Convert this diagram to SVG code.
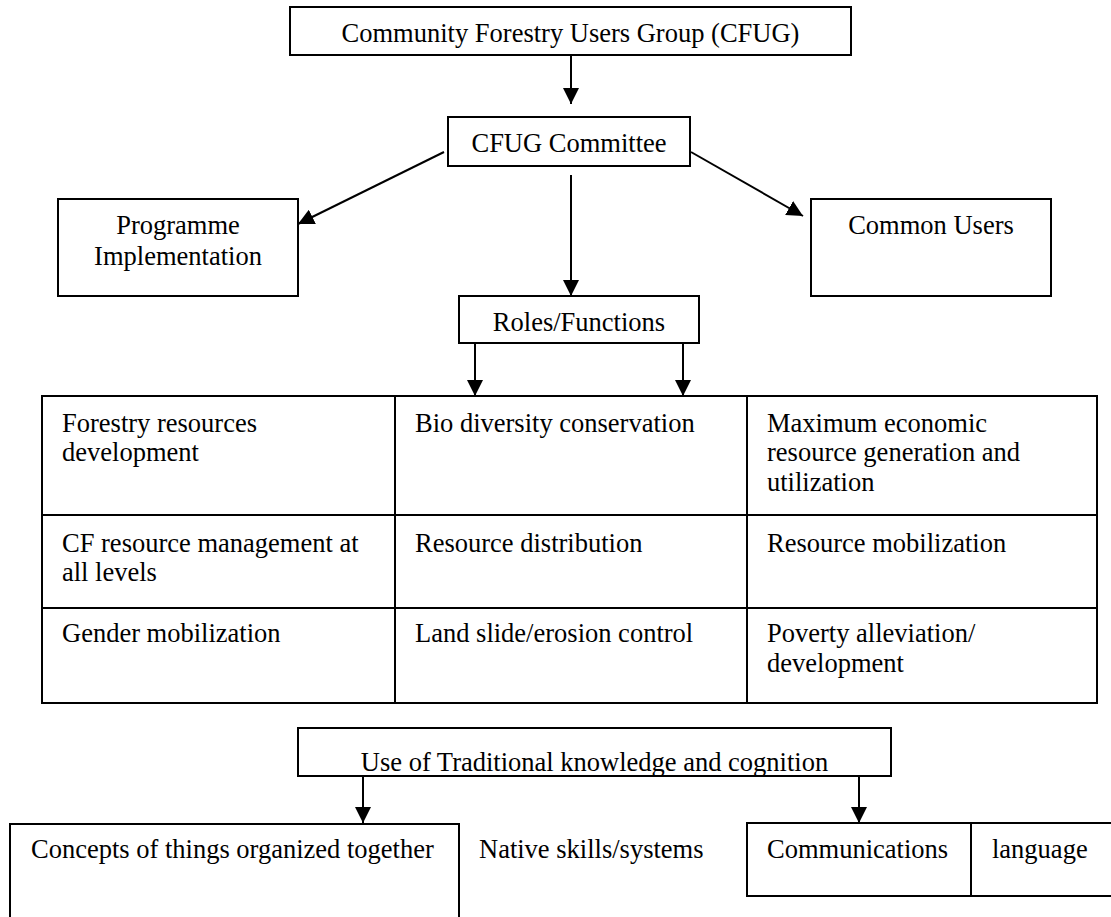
<svg xmlns="http://www.w3.org/2000/svg" width="1111" height="917" viewBox="0 0 1111 917">
  <style>
    .box { fill: #ffffff; stroke: #000000; stroke-width: 2; }
    .rule { stroke: #000000; stroke-width: 2; fill: none; }
    .edge { stroke: #000000; stroke-width: 2; fill: none; marker-end: url(#arrow); }
    text { font-family: "Liberation Serif", "Times New Roman", serif; font-size: 26.5px; fill: #000000; }
    .c { text-anchor: middle; }
  </style>
  <defs>
    <marker id="arrow" viewBox="0 0 16 16" refX="16" refY="8" markerWidth="16" markerHeight="16" markerUnits="userSpaceOnUse" orient="auto">
      <path d="M0,0 L16,8 L0,16 Z" fill="#000000"/>
    </marker>
    <clipPath id="tkClip">
      <rect x="298" y="728" width="593" height="48"/>
    </clipPath>
  </defs>

  <g id="cfug">
    <rect class="box" x="290" y="7" width="561" height="48"/>
    <text class="c" x="570.5" y="42">Community Forestry Users Group (CFUG)</text>
  </g>

  <g id="committee">
    <rect class="box" x="448" y="117" width="242" height="49"/>
    <text class="c" x="569" y="152">CFUG Committee</text>
  </g>

  <g id="programme">
    <rect class="box" x="58" y="199" width="240" height="97"/>
    <text class="c" x="178" y="234">Programme</text>
    <text class="c" x="178" y="265">Implementation</text>
  </g>

  <g id="common-users">
    <rect class="box" x="811" y="199" width="240" height="97"/>
    <text class="c" x="931" y="234">Common Users</text>
  </g>

  <g id="roles">
    <rect class="box" x="459" y="296" width="240" height="47"/>
    <text class="c" x="579" y="331">Roles/Functions</text>
  </g>

  <g id="functions-table">
    <rect class="box" x="42" y="396" width="1055" height="307"/>
    <line class="rule" x1="395" y1="396" x2="395" y2="703"/>
    <line class="rule" x1="747" y1="396" x2="747" y2="703"/>
    <line class="rule" x1="42" y1="515" x2="1097" y2="515"/>
    <line class="rule" x1="42" y1="608" x2="1097" y2="608"/>
    <text x="62" y="432">Forestry resources</text>
    <text x="62" y="461">development</text>
    <text x="415" y="432">Bio diversity conservation</text>
    <text x="767" y="432">Maximum economic</text>
    <text x="767" y="461">resource generation and</text>
    <text x="767" y="491">utilization</text>
    <text x="62" y="552">CF resource management at</text>
    <text x="62" y="581">all levels</text>
    <text x="415" y="552">Resource distribution</text>
    <text x="767" y="552">Resource mobilization</text>
    <text x="62" y="642">Gender mobilization</text>
    <text x="415" y="642">Land slide/erosion control</text>
    <text x="767" y="642">Poverty alleviation/</text>
    <text x="767" y="672">development</text>
  </g>

  <g id="traditional-knowledge">
    <rect class="box" x="298" y="728" width="593" height="48"/>
    <text class="c" x="594.5" y="771" clip-path="url(#tkClip)">Use of Traditional knowledge and cognition</text>
    <rect class="rule" x="298" y="728" width="593" height="48"/>
  </g>

  <g id="concepts">
    <rect class="box" x="10" y="824" width="449" height="110"/>
    <text x="31" y="858">Concepts of things organized together</text>
  </g>

  <g id="native-skills">
    <text x="479" y="858">Native skills/systems</text>
  </g>

  <g id="communications">
    <rect class="box" x="747" y="823" width="370" height="73"/>
    <line class="rule" x1="971" y1="823" x2="971" y2="896"/>
    <text x="767" y="858">Communications</text>
    <text x="992" y="858">language</text>
  </g>

  <g id="connectors">
    <line class="edge" x1="571" y1="55" x2="571" y2="104"/>
    <line class="edge" x1="444" y1="152" x2="298" y2="224"/>
    <line class="edge" x1="691" y1="152" x2="803" y2="216"/>
    <line class="edge" x1="571" y1="175" x2="571" y2="296"/>
    <line class="edge" x1="475" y1="343" x2="475" y2="396"/>
    <line class="edge" x1="683" y1="343" x2="683" y2="396"/>
    <line class="edge" x1="363" y1="776" x2="363" y2="823"/>
    <line class="edge" x1="859" y1="776" x2="859" y2="823"/>
  </g>
</svg>
